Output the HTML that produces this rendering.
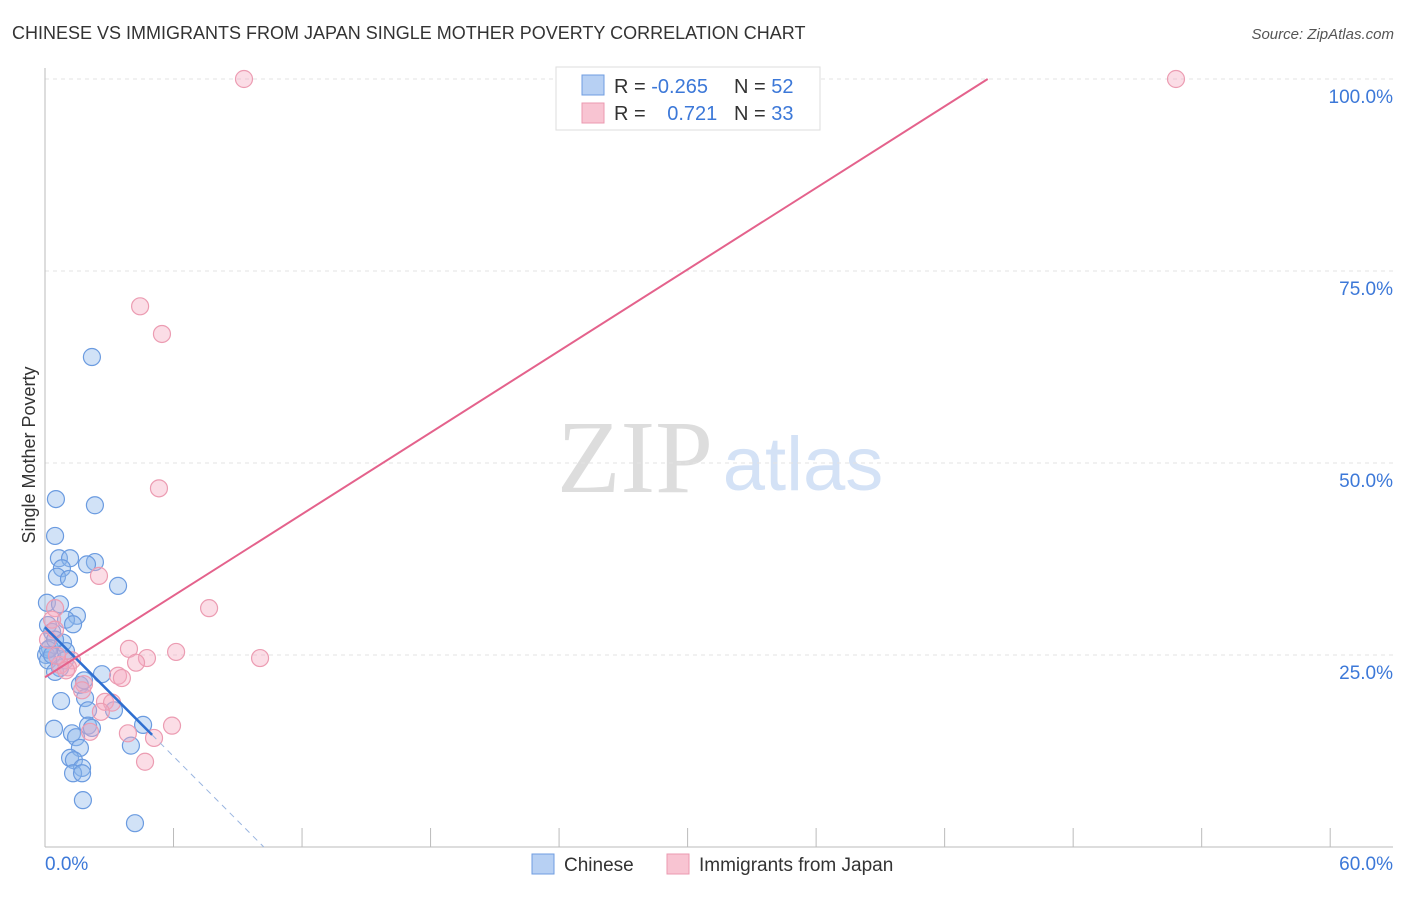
<!DOCTYPE html>
<html><head><meta charset="utf-8"><style>
body{margin:0;background:#fff;font-family:"Liberation Sans",sans-serif}
svg text{font-family:"Liberation Sans",sans-serif}
</style></head><body>
<svg width="1406" height="892">
<text x="12" y="39" font-size="18" fill="#333">CHINESE VS IMMIGRANTS FROM JAPAN SINGLE MOTHER POVERTY CORRELATION CHART</text>
<text x="1394" y="39" font-size="15" fill="#555" text-anchor="end" font-style="italic">Source: ZipAtlas.com</text>
<text x="635" y="492" font-size="104" fill="#ddd" text-anchor="middle" font-family="Liberation Serif" style="font-family:'Liberation Serif',serif">ZIP</text>
<text x="803" y="490" font-size="76" fill="#d4e2f6" text-anchor="middle">atlas</text>
<g id="grid"></g>
<g id="axes"></g>
<text transform="translate(35,455) rotate(-90)" font-size="18" fill="#333" text-anchor="middle">Single Mother Poverty</text>
<g id="marks"></g>
<g>
<rect x="556" y="67" width="264" height="63" fill="#fff" stroke="#ddd"/>
<rect x="582" y="75" width="22" height="20" fill="#b7d0f3" stroke="#6f9de0"/>
<rect x="582" y="103" width="22" height="20" fill="#f8c4d2" stroke="#eb9ab0"/>
<text x="614" y="93" font-size="20" fill="#333">R = <tspan fill="#3c78d8">-0.265</tspan></text>
<text x="734" y="93" font-size="20" fill="#333">N = <tspan fill="#3c78d8">52</tspan></text>
<text x="614" y="120" font-size="20" fill="#333">R = <tspan fill="#3c78d8" dx="16">0.721</tspan></text>
<text x="734" y="120" font-size="20" fill="#333">N = <tspan fill="#3c78d8">33</tspan></text>
</g>
<g>
<rect x="532" y="854" width="22" height="20" fill="#b7d0f3" stroke="#6f9de0"/>
<text x="564" y="871" font-size="19" fill="#333">Chinese</text>
<rect x="667" y="854" width="22" height="20" fill="#f8c4d2" stroke="#eb9ab0"/>
<text x="699" y="871" font-size="19" fill="#333">Immigrants from Japan</text>
</g>
</svg>
<script>
const yTicks=[25,50,75,100];
const yTickLabels=["25.0%","50.0%","75.0%","100.0%"];
const xTicks=[0,6,12,18,24,30,36,42,48,54,60];
const chineseX=[2.19,0.51,2.33,0.47,0.65,1.17,2.33,1.96,0.79,0.56,1.12,3.41,0.09,0.70,1.49,0.98,1.31,0.14,0.33,0.84,0.23,0.05,0.14,0.70,0.47,2.66,1.63,1.87,0.75,2.01,3.22,2.01,2.19,0.42,1.26,1.45,1.63,4.01,4.58,1.17,1.35,1.73,1.31,1.73,1.77,4.20,0.14,0.33,0.93,1.82,0.98,0.47];
const chineseY=[63.8,45.3,44.5,40.5,37.6,37.6,37.1,36.8,36.3,35.2,34.9,34.0,31.8,31.6,30.1,29.6,29.0,28.9,28.0,26.6,25.9,25.0,24.3,23.3,22.8,22.5,21.1,19.4,19.0,17.8,17.8,15.8,15.5,15.4,14.8,14.3,12.9,13.2,15.9,11.6,11.3,10.3,9.6,9.6,6.1,3.1,25.7,25.0,24.3,21.7,25.5,27.0];
const japanX=[9.29,52.8,4.44,5.46,5.32,2.52,7.66,0.47,0.33,6.12,3.92,4.76,4.25,10.04,1.26,1.07,0.70,3.41,3.59,1.82,1.73,2.80,3.13,2.61,3.87,5.93,5.09,4.67,2.10,0.14,0.47,0.56,0.98];
const japanY=[100,100,70.4,66.8,46.7,35.3,31.1,31.1,29.6,25.4,25.8,24.6,24.0,24.6,24.3,23.4,23.7,22.3,22.0,21.2,20.4,18.9,18.8,17.6,14.8,15.8,14.2,11.1,15.0,27.0,28.3,24.9,23.0];
const blueTrend=[28.6,-2.8]; // intercept, slope
const pinkTrend=[22.1,1.77];
const NS="http://www.w3.org/2000/svg";
const X=v=>45+v*21.42, Y=v=>847-v*7.68;
function mk(tag,attrs,parent){const e=document.createElementNS(NS,tag);for(const k in attrs)e.setAttribute(k,attrs[k]);parent.appendChild(e);return e;}
const grid=document.getElementById('grid'),axes=document.getElementById('axes'),marks=document.getElementById('marks');
yTicks.forEach((t,i)=>{
 const l=mk('line',{x1:45,x2:1393,y1:Y(t),y2:Y(t),stroke:'#e3e3e3','stroke-dasharray':'4,4'},grid);
 
 
 const tx=mk('text',{x:1393,y:Y(t)+24,'font-size':19,fill:'#3c78d8','text-anchor':'end'},axes);
 tx.textContent=yTickLabels[i];
 
 
});
mk('line',{x1:45,x2:45,y1:68,y2:847,stroke:'#bbb'},axes);
mk('line',{x1:45,x2:1393,y1:847,y2:847,stroke:'#bbb'},axes);
xTicks.forEach(t=>{const l=mk('line',{x1:X(t),x2:X(t),y1:828,y2:847,stroke:'#bbb'},axes);
 
 });
let t0=mk('text',{x:45,y:870,'font-size':19,fill:'#3c78d8'},axes);t0.textContent="0.0%";


let t1=mk('text',{x:1393,y:870,'font-size':19,fill:'#3c78d8','text-anchor':'end'},axes);t1.textContent="60.0%";


chineseX.forEach((x,i)=>{const c=mk('circle',{cx:X(x),cy:Y(chineseY[i]),r:8.5,fill:'rgba(140,182,236,0.4)',stroke:'#6b9be0','stroke-width':1.2},marks);
 
 });
japanX.forEach((x,i)=>{const c=mk('circle',{cx:X(x),cy:Y(japanY[i]),r:8.5,fill:'rgba(244,170,192,0.4)',stroke:'#ec9cb2','stroke-width':1.2},marks);
 
 });
const bx1=5.0,bx2=(0-blueTrend[0])/blueTrend[1];
let bl=mk('line',{x1:X(0),y1:Y(blueTrend[0]),x2:X(bx1),y2:Y(blueTrend[0]+blueTrend[1]*bx1),stroke:'#2f6fd0','stroke-width':2.5},marks);


let bd=mk('line',{x1:X(bx1),y1:Y(blueTrend[0]+blueTrend[1]*bx1),x2:X(bx2),y2:Y(0),stroke:'#9ab5e0','stroke-width':1,'stroke-dasharray':'6,5'},marks);


const px2=(100-pinkTrend[0])/pinkTrend[1];
let pl=mk('line',{x1:X(0),y1:Y(pinkTrend[0]),x2:X(px2),y2:Y(100),stroke:'#e4628c','stroke-width':2},marks);


</script>
</body></html>
